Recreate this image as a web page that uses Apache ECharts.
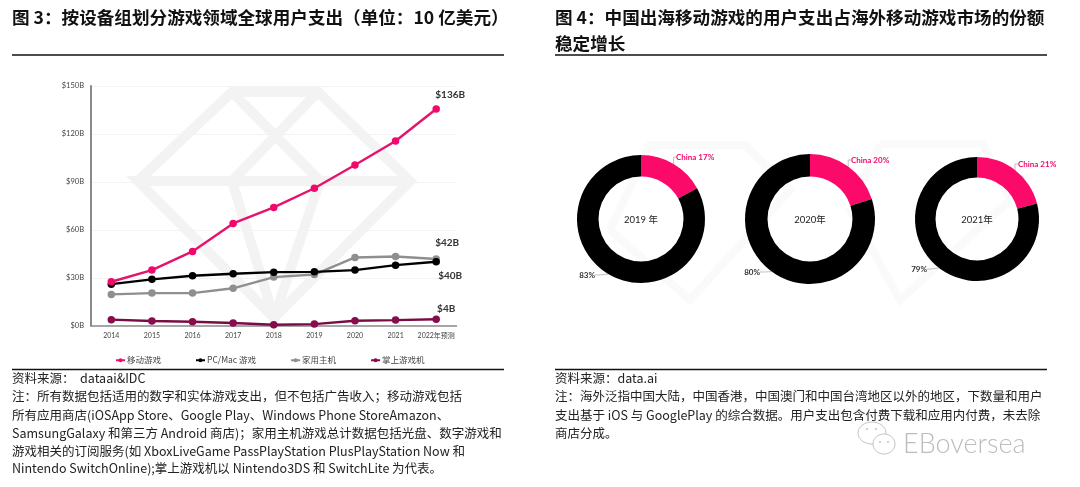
<!DOCTYPE html>
<html><head><meta charset="utf-8">
<style>html,body{margin:0;padding:0;background:#fff}#c{width:1080px;height:487px}</style>
<script src="https://cdn.jsdelivr.net/npm/echarts@6/dist/echarts.min.js"></script>
</head><body><div id="c"></div>
<script>
const years = ['2014','2015','2016','2017','2018','2019','2020','2021','2022年预测'];
const mobile = [27.5,34.8,46.5,64,74,86,100.6,115.6,135.6];
const pc = [26,29,31.3,32.5,33.5,33.7,34.8,37.9,40];
const consoleGames = [19.6,20.4,20.4,23.4,30.4,32,42.7,43.3,41.7];
const handheld = [3.8,2.9,2.5,1.7,0.6,1,3.1,3.5,4];
const seriesNames = ['移动游戏','PC/Mac 游戏','家用主机','掌上游戏机'];
const endLabels = ['$136B','$40B','$42B','$4B'];
const yTicks = ['$0B','$30B','$60B','$90B','$120B','$150B'];
const donutYears = ['2019 年','2020年','2021年'];
const chinaShare = [17,20,21];
const otherShare = [83,80,79];

const title3 = '图 3：按设备组划分游戏领域全球用户支出（单位：10 亿美元）';
const title4 = ['图 4：中国出海移动游戏的用户支出占海外移动游戏市场的份额','稳定增长'];
const notes3 = ['资料来源：  dataai&IDC','注：所有数据包括适用的数字和实体游戏支出，但不包括广告收入；移动游戏包括','所有应用商店(iOSApp Store、Google Play、Windows Phone StoreAmazon、','SamsungGalaxy 和第三方 Android 商店)；家用主机游戏总计数据包括光盘、数字游戏和','游戏相关的订阅服务(如 XboxLiveGame PassPlayStation PlusPlayStation Now 和','Nintendo SwitchOnline);掌上游戏机以 Nintendo3DS 和 SwitchLite 为代表。'];
const notes4 = ['资料来源：data.ai','注：海外泛指中国大陆，中国香港，中国澳门和中国台湾地区以外的地区，下数量和用户','支出基于 iOS 与 GooglePlay 的综合数据。用户支出包含付费下载和应用内付费，未去除','商店分成。'];

const CJK = '"Noto Sans CJK SC","Noto Sans",sans-serif';
const LAT = 'Lato,"Noto Sans CJK SC",sans-serif';
const pink = '#f2086c';
const centers = [[641,219,64,42.5],[810,219,65,42.5],[977,219,62,41.5]];
const chinaPos = [[676,157],[851,160],[1018,164]];
const otherPos = [[595,275],[760,272],[927,269]];

function text(x,y,t,size,extra){
  return {type:'text',z:20,style:Object.assign({x,y,text:t,font:`${size}px ${CJK}`,fill:'#222',textVerticalAlign:'middle'},extra||{})};
}
function seg(pts,w,c,z){return {type:'polyline',z:z||0,silent:true,shape:{points:pts},style:{stroke:c,lineWidth:w,fill:null,lineJoin:'miter'}};}

const gfx = [];
const wm='#f3f3f3';
gfx.push(seg([[138,181],[232,92],[318,92],[410,181],[274,318],[138,181],[410,181]],10,wm));
gfx.push(seg([[232,92],[320,181],[274,318],[232,181],[318,92]],10,wm));
const wm2='#fafafa';
gfx.push(seg([[610,230],[650,145],[745,145],[790,190],[690,300],[610,230]],8,wm2));
gfx.push(seg([[880,144],[983,144],[1010,200],[900,300],[850,210],[880,144]],8,wm2));
const titleFont=`bold 17.6px ${CJK}`;
gfx.push(text(12,17,title3,17.6,{font:titleFont,fill:'#111'}));
gfx.push(text(555,17,title4[0],17.6,{font:titleFont,fill:'#111'}));
gfx.push(text(555,43,title4[1],17.6,{font:titleFont,fill:'#111'}));
[[12,504,55],[555,1047,55],[12,504,369.5],[555,1047,369.5]].forEach(r=>{
  gfx.push({type:'line',z:20,shape:{x1:r[0],y1:r[2],x2:r[1],y2:r[2]},style:{stroke:'#111',lineWidth:1.4}});
});
const noteY=[378,396,415,433,451,468];
notes3.forEach((t,i)=>gfx.push(text(12,noteY[i],t,12.5)));
notes4.forEach((t,i)=>gfx.push(text(555,noteY[i],t,12.5)));
donutYears.forEach((t,i)=>gfx.push(text(centers[i][0],centers[i][1]+1,t,9.5,{textAlign:'center',font:`9.5px ${LAT}`,fill:'#222'})));
const wc='#c4c4c4';
gfx.push({type:'ellipse',z:20,shape:{cx:872,cy:433,rx:14,ry:11},style:{stroke:wc,fill:null,lineWidth:1}});
gfx.push({type:'ellipse',z:21,shape:{cx:884,cy:444,rx:11,ry:10},style:{stroke:wc,fill:'#fff',lineWidth:1}});
[[867,429],[876,429],[880,442],[888,442]].forEach(p=>gfx.push({type:'circle',z:22,shape:{cx:p[0],cy:p[1],r:1},style:{fill:wc}}));
gfx.push(text(903,444,'EBoversea',27,{font:`300 27px Lato,sans-serif`,fill:'#bdbdbd'}));

function lineSeries(i,data,color,markColor,offset,z){
  return {name:seriesNames[i],type:'line',data,z,symbol:'circle',symbolSize:7.5,showSymbol:true,
    lineStyle:{color,width:2.4},itemStyle:{color:markColor},
    label:{show:true,position:'top',distance:0,offset,color:'#333',fontFamily:LAT,fontSize:10,fontWeight:'bold',
      formatter:p=>p.dataIndex===years.length-1?endLabels[i]:''},
    emphasis:{disabled:true}};
}
const pies = chinaShare.map((v,i)=>({
  type:'pie',center:[centers[i][0],centers[i][1]],radius:[centers[i][3],centers[i][2]],
  startAngle:90,clockwise:true,silent:true,z:5,
  data:[{value:v,name:'China',itemStyle:{color:'#fb0a6a'},label:{color:pink,fontWeight:'bold'}},
        {value:otherShare[i],name:'Other',itemStyle:{color:'#000'},label:{color:'#333',fontWeight:'bold'}}],
  label:{show:true,position:'outside',fontFamily:LAT,fontSize:8,
    formatter:p=>p.dataIndex===0?`China ${p.value}%`:`${p.value}%`},
  labelLine:{show:true,length:4,length2:4,lineStyle:{color:'#999',width:0.6}},
  labelLayout:p=>p.dataIndex===0
    ?{x:chinaPos[i][0],y:chinaPos[i][1],align:'left',verticalAlign:'middle'}
    :{x:otherPos[i][0],y:otherPos[i][1],align:'right',verticalAlign:'middle'}
}));

const chart = echarts.init(document.getElementById('c'),null,{renderer:'canvas'});
chart.setOption({
  animation:false,backgroundColor:'#fff',
  textStyle:{fontFamily:LAT},
  graphic:{elements:gfx},
  grid:{left:91,top:86,width:365.5,height:239.7,containLabel:false},
  legend:{left:110,top:351,itemWidth:9,itemHeight:5,itemGap:34,data:seriesNames,
    textStyle:{fontSize:8.5,color:'#444',fontFamily:CJK,padding:[0,0,0,-3]}},
  xAxis:{type:'category',data:years,boundaryGap:true,
    axisLine:{lineStyle:{color:'#8a8a8a',width:1.5}},axisTick:{show:false},
    axisLabel:{fontSize:7,color:'#444',margin:7,fontFamily:LAT,interval:0}},
  yAxis:{type:'value',min:0,max:150,interval:30,
    axisLine:{show:true,lineStyle:{color:'#8a8a8a',width:2}},axisTick:{show:false},
    splitLine:{lineStyle:{color:'#f3f3f3',width:1}},
    axisLabel:{fontSize:7.5,color:'#444',margin:7,fontFamily:LAT,formatter:v=>yTicks[v/30]}},
  series:[
    lineSeries(2,consoleGames,'#8f8f8f','#8f8f8f',[11,-8],3),
    lineSeries(1,pc,'#000','#000',[14,23],4),
    lineSeries(0,mobile,'#e6136c',pink,[14,-5],5),
    lineSeries(3,handheld,'#7a0c45','#870c4c',[10,-2],6),
    ...pies
  ]
});
</script></body></html>
